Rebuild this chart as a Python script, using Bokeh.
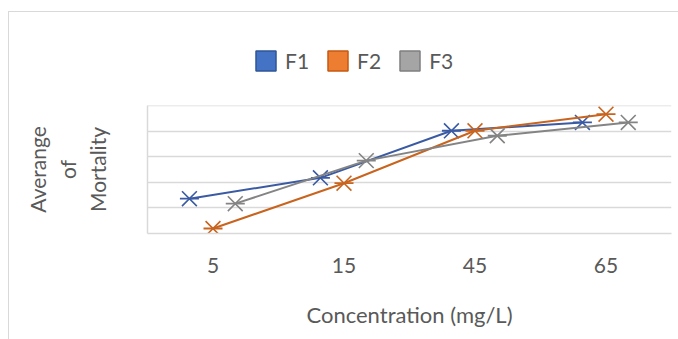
from bokeh.plotting import figure
from bokeh.layouts import column
from bokeh.models import (FactorRange, Range1d, Legend, LegendItem,
                          ColumnDataSource, FixedTicker, CustomJSTickFormatter)
from bokeh.transform import dodge
from bokeh.embed import file_html
from bokeh.resources import INLINE

# ---- data ----
concentrations = ["5", "15", "45", "65"]
series_names = ["F1", "F2", "F3"]
f1_values = [27.3, 43.6, 80.5, 87.0]
f2_values = [3.9, 39.4, 80.5, 93.5]
f3_values = [23.4, 57.1, 76.6, 87.0]
grid_ticks = [0, 20, 40, 60, 80, 100]
x_title = "Concentration (mg/L)"
y_title = "Averange\nof\nMortality"

series_values = [f1_values, f2_values, f3_values]
series_offsets = [-0.18, 0.0, 0.17]
line_colors = ["#3A5BA3", "#C8641E", "#848484"]
swatch_fill = ["#4472C4", "#ED7D31", "#A5A5A5"]
swatch_line = ["#2F5597", "#C55A11", "#7F7F7F"]

FONT = "Lato"
FS = "21px"
TXT = "#595959"
GRID = "#D9D9D9"

# ---- legend strip (top) ----
leg_fig = figure(width=670, height=60, x_range=Range1d(0, 1), y_range=Range1d(0, 1),
                 x_axis_type=None, y_axis_type=None, output_backend="svg",
                 toolbar_location=None, min_border=0)
leg_fig.outline_line_color = None
leg_fig.grid.visible = False

# ---- main chart ----
p = figure(width=670, height=267, x_range=FactorRange(*concentrations, range_padding=0),
           y_range=Range1d(0, 100.3), output_backend="svg", toolbar_location=None,
           min_border_left=138, min_border_right=8, min_border_top=33, min_border_bottom=106)
p.outline_line_color = None
p.xgrid.grid_line_color = None
p.ygrid.ticker = FixedTicker(ticks=grid_ticks)
p.ygrid.grid_line_color = GRID
p.ygrid.grid_line_width = 1.5

p.yaxis.ticker = FixedTicker(ticks=grid_ticks)
p.yaxis.formatter = CustomJSTickFormatter(code="return ''")
p.yaxis.major_tick_line_color = None
p.yaxis.minor_tick_line_color = None
p.yaxis.major_label_standoff = 0
p.yaxis.axis_line_color = GRID
p.yaxis.axis_line_width = 1.5
p.yaxis.axis_label = y_title
p.yaxis.axis_label_text_font = FONT
p.yaxis.axis_label_text_font_style = "normal"
p.yaxis.axis_label_text_font_size = FS
p.yaxis.axis_label_text_color = TXT
p.yaxis.axis_label_standoff = 32

p.xaxis.axis_line_color = GRID
p.xaxis.axis_line_width = 1.5
p.xaxis.major_tick_line_color = None
p.xaxis.major_label_text_font = FONT
p.xaxis.major_label_text_font_size = FS
p.xaxis.major_label_text_color = TXT
p.xaxis.major_label_standoff = 18
p.xaxis.axis_label = x_title
p.xaxis.axis_label_text_font = FONT
p.xaxis.axis_label_text_font_style = "normal"
p.xaxis.axis_label_text_font_size = "22px"
p.xaxis.axis_label_text_color = TXT
p.xaxis.axis_label_standoff = 25

items = []
for name, vals, off, lc, sf, sl in zip(series_names, series_values, series_offsets,
                                       line_colors, swatch_fill, swatch_line):
    src = ColumnDataSource(dict(x=concentrations, y=vals))
    xd = dodge("x", off, range=p.x_range)
    p.line(x=xd, y="y", source=src, line_color=lc, line_width=2)
    p.scatter(x=xd, y="y", source=src, marker="x", size=21, line_color=lc, line_width=1.6)
    p.scatter(x=xd, y="y", source=src, marker="dash", size=19, line_color=lc, line_width=1.8)
    # legend swatch: a zero-size rect that only shows up in the legend
    sw_src = ColumnDataSource(dict(x=[0.5], y=[0.5]))
    sw = leg_fig.rect(x="x", y="y", width=0, height=0, source=sw_src,
                      fill_color=sf, line_color=sl, line_width=1.5)
    items.append(LegendItem(label=name, renderers=[sw]))

legend = Legend(items=items, orientation="horizontal", location=(106, -1),
                glyph_width=25, glyph_height=25, label_standoff=7, spacing=16,
                padding=0, margin=0, border_line_color=None, background_fill_alpha=0,
                label_text_font=FONT, label_text_font_size=FS, label_text_color=TXT)
leg_fig.add_layout(legend, "center")

layout = column(leg_fig, p, margin=(11, 0, 0, 8),
                styles={"border-top": "1px solid #D9D9D9", "border-left": "1px solid #D9D9D9"})

open("out.html", "w").write(file_html(layout, INLINE))
